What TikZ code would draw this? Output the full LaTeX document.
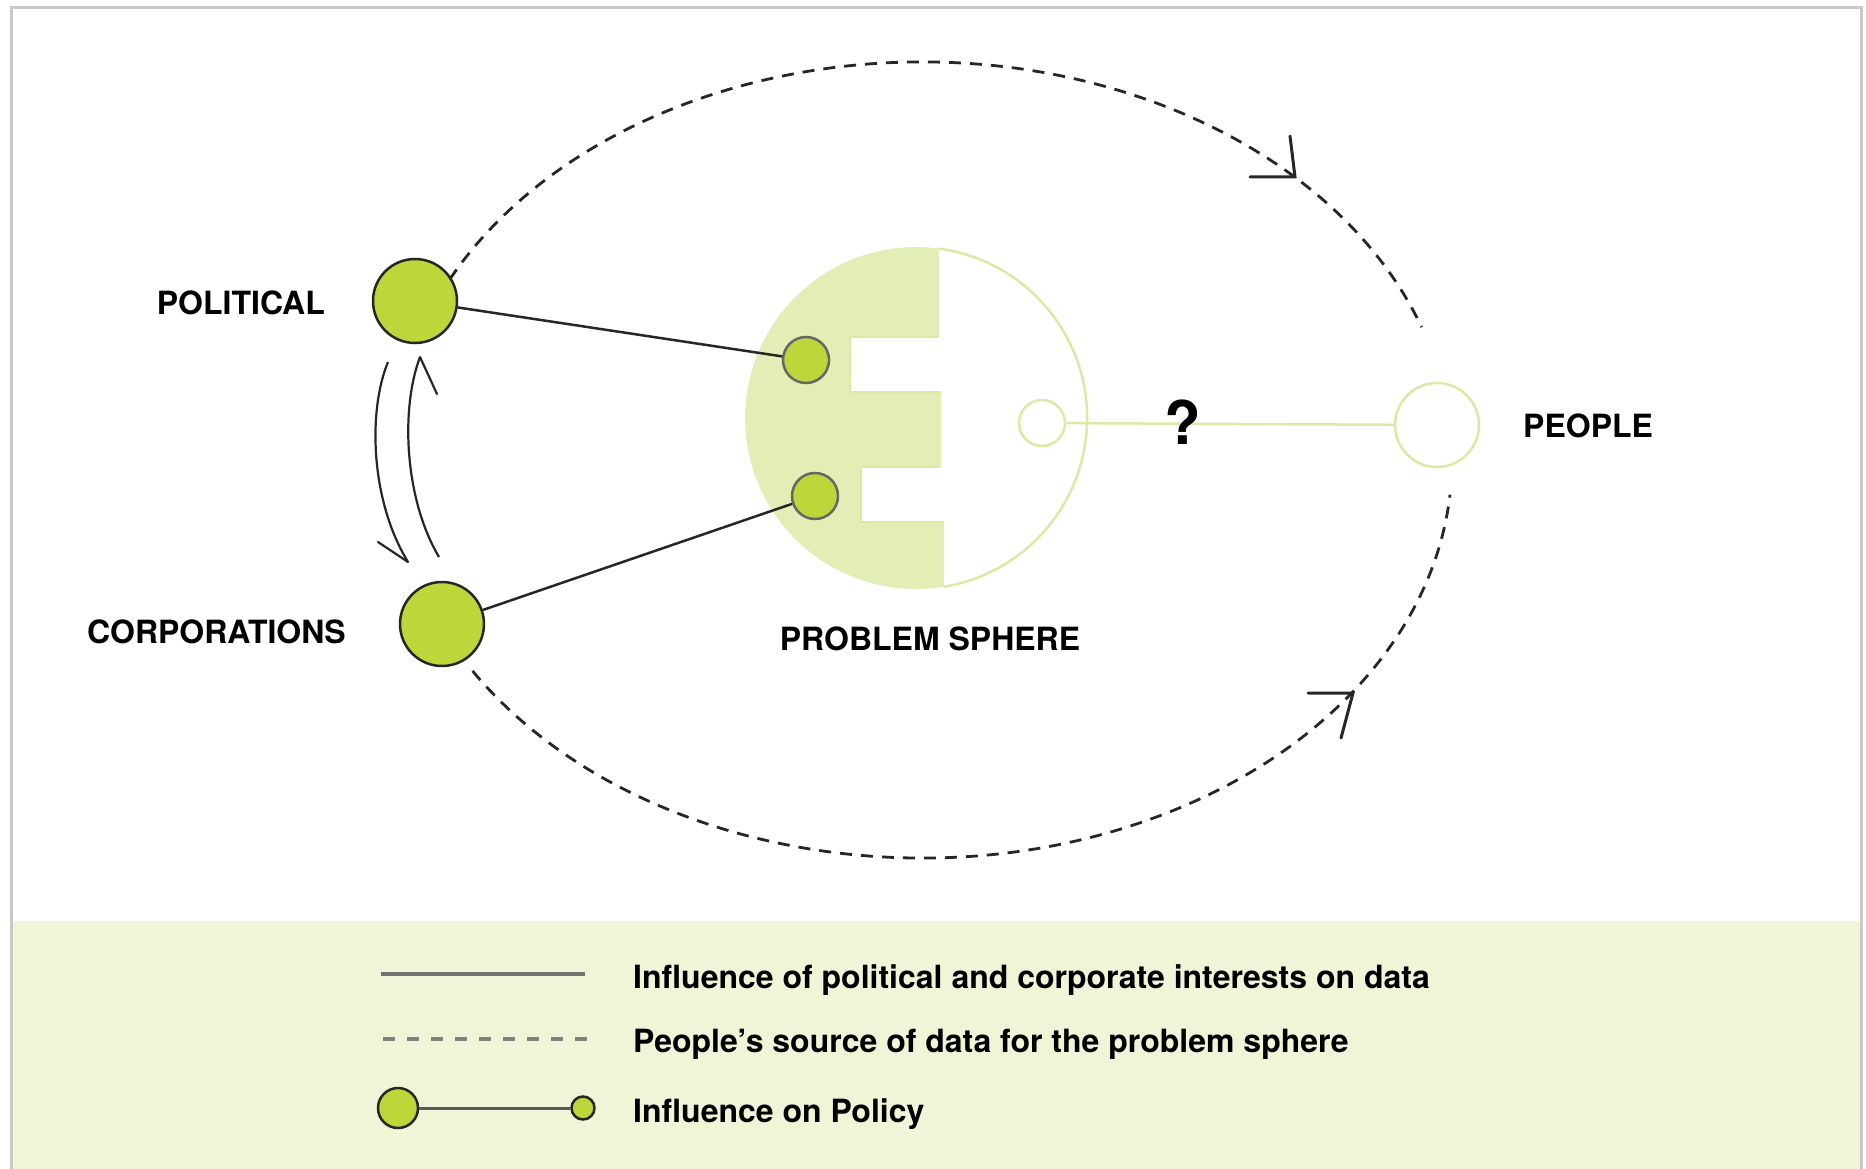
\documentclass[tikz,border=0pt]{standalone}
\usepackage{fontspec}
\setmainfont{TeX Gyre Heros}
\usetikzlibrary{calc}
\definecolor{lime}{HTML}{BDD73B}
\definecolor{sphfill}{HTML}{E3EEB6}
\definecolor{sphline}{HTML}{DCE8A4}
\definecolor{bandgreen}{HTML}{F1F5D8}
\definecolor{framegray}{HTML}{C9C9C9}
\tikzset{
  bigdot/.style={circle, fill=lime, draw=black!85, line width=2.5pt, minimum size=84pt, inner sep=0pt},
  smalldot/.style={circle, fill=lime, draw=black!60, line width=2.5pt, minimum size=46pt, inner sep=0pt},
  hollow/.style={circle, fill=white, draw=sphline, line width=2.5pt, inner sep=0pt},
  lbl/.style={inner sep=0pt, font=\fontsize{32}{38}\selectfont\bfseries},
  infl/.style={draw=black!85, line width=2.5pt},
  src/.style={draw=black!85, line width=2.8pt, dash pattern=on 12pt off 9pt},
  barbline/.style={draw=black!85, line width=3pt, line cap=round},
  gline/.style={draw=sphline, line width=2.5pt},
  legsolid/.style={draw=black!55, line width=3.5pt},
  legdash/.style={draw=black!50, line width=3.5pt, dash pattern=on 12pt off 12pt},
}
\begin{document}
\begin{tikzpicture}[x=1pt,y=-1pt]
\useasboundingbox (0,0) rectangle (1866,1169);
% legend band and frame
\fill[bandgreen] (12,921) rectangle (1860,1169);
\draw[framegray, line width=3pt] (11,1169) -- (11,8) -- (1861,8) -- (1861,1169);

% problem sphere
\coordinate (C) at (916,418);
\fill[sphfill] (939,248.6) -- (939,337) -- (850,337) -- (850,392) -- (941,392) -- (941,467)
  -- (861,467) -- (861,522) -- (944,522) -- (944,586.7)
  arc[start angle=80.6, end angle=277.7, radius=171] -- cycle;
\draw[sphline, line width=1.2pt] (939,337) -- (850,337) -- (850,392) -- (941,392);
\draw[sphline, line width=1.2pt] (941,467) -- (861,467) -- (861,522) -- (944,522);
\draw[sphline, line width=2.5pt] (939,248.6) arc[start angle=-82.3, end angle=80.6, radius=171];

% nodes
\node[bigdot] (pol) at (415,301) {};
\node[bigdot] (corp) at (442,624) {};
\node[smalldot] (s1) at (806,360) {};
\node[smalldot] (s2) at (815,496) {};
\node[hollow, minimum size=46pt] (sw) at (1042,423) {};
\node[hollow, minimum size=84pt] (people) at (1437,425) {};

% labels
\node[lbl, anchor=base east] (polL) at (325,314) {POLITICAL};
\node[lbl, anchor=base east] (corpL) at (346,643) {CORPORATIONS};
\node[lbl, anchor=base] (sphL) at (930,650) {PROBLEM SPHERE};
\node[lbl, anchor=base west] (peopleL) at (1523,437) {PEOPLE};

% influence lines
\draw[infl] (pol) -- (s1);
\draw[infl] (corp) -- (s2);

% people link
\draw[gline] (sw) -- (people);
\node[inner sep=0pt, anchor=base, font=\fontsize{60}{66}\selectfont\bfseries] (q) at (1183,444) {?};

% dashed source arcs (ellipse centre E)
\coordinate (E) at (922,460);
\draw[src] (E) ++(207:530 and 398) arc[start angle=207, end angle=340.5, x radius=530, y radius=398];
\draw[src] (E) ++(148:530 and 398) arc[start angle=148, end angle=5, x radius=530, y radius=398];
% arrow barbs on the arcs
\coordinate (tA) at (1295,177);
\draw[barbline] (1250,177) -- (tA) -- (1290,136);
\coordinate (tB) at (1353,693);
\draw[barbline] (1308,693) -- (tB) -- (1341,738);

% mutual influence between political and corporations
\coordinate (dA) at (388,362);
\coordinate (dB) at (408,562);
\draw[infl, line width=2.2pt] (dA) .. controls (368,410) and (370,500) .. (dB);
\draw[infl, line width=2.2pt, line cap=round] (dB) -- (378,542);
\coordinate (uA) at (439,557);
\coordinate (uB) at (420,357);
\draw[infl, line width=2.2pt] (uA) .. controls (405,500) and (400,410) .. (uB);
\draw[infl, line width=2.2pt, line cap=round] (uB) -- (437,394);

% legend
\coordinate (l1a) at (381,974);
\coordinate (l1b) at (585,974);
\draw[legsolid] (l1a) -- (l1b);
\node[lbl, anchor=base west] (t1) at (633,988) {Influence of political and corporate interests on data};
\coordinate (l2a) at (383,1039);
\coordinate (l2b) at (587,1039);
\draw[legdash] (l2a) -- (l2b);
\node[lbl, anchor=base west] (t2) at (633,1052) {People’s source of data for the problem sphere};
\node[circle, fill=lime, draw=black!85, line width=2.5pt, minimum size=40pt, inner sep=0pt] (lp1) at (398,1108) {};
\node[circle, fill=lime, draw=black!85, line width=2.5pt, minimum size=23pt, inner sep=0pt] (lp2) at (583,1108) {};
\draw[draw=black!65, line width=3pt] (lp1) -- (lp2);
\node[lbl, anchor=base west] (t3) at (633,1122) {Influence on Policy};
\end{tikzpicture}
\end{document}
